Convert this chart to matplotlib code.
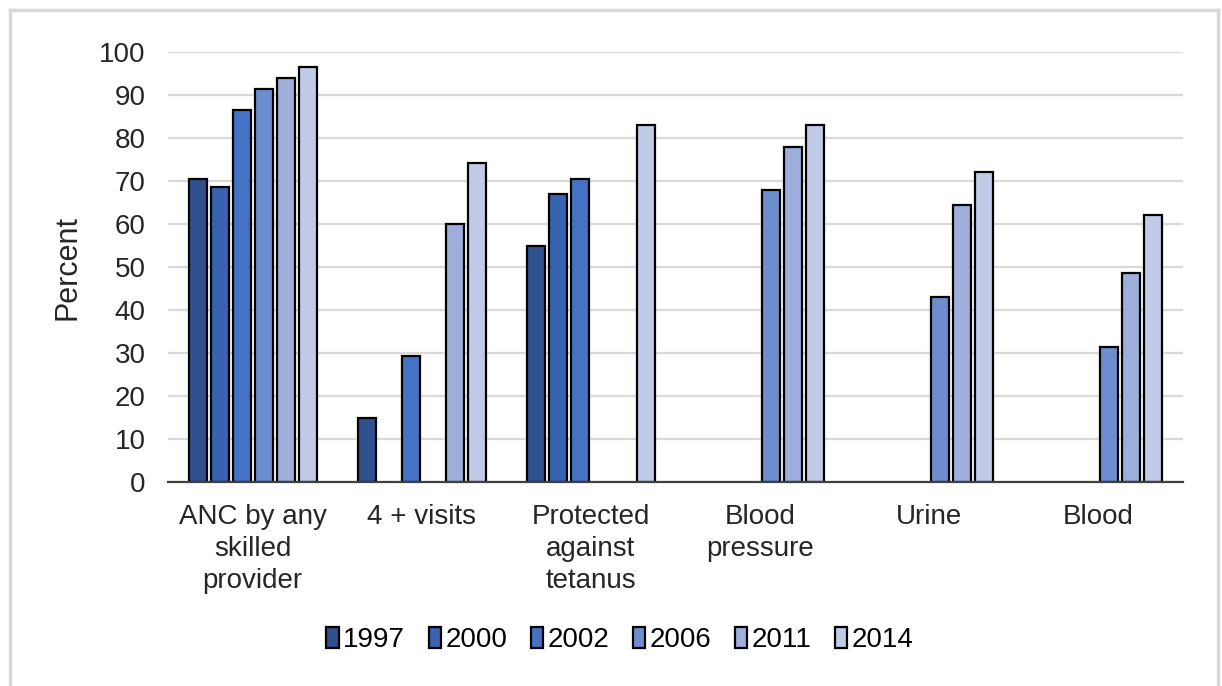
import matplotlib
matplotlib.use("Agg")
import matplotlib.pyplot as plt
from matplotlib.patches import Patch
from matplotlib.lines import Line2D
import numpy as np

categories = ["ANC by any\nskilled\nprovider", "4 + visits", "Protected\nagainst\ntetanus",
              "Blood\npressure", "Urine", "Blood"]
years = ["1997", "2000", "2002", "2006", "2011", "2014"]
nan = np.nan
values = {
    "1997": [70.5, 15.0, 55.0, nan, nan, nan],
    "2000": [68.5, nan, 67.0, nan, nan, nan],
    "2002": [86.5, 29.2, 70.5, nan, nan, nan],
    "2006": [91.5, nan, nan, 68.0, 43.0, 31.5],
    "2011": [94.0, 60.0, nan, 77.8, 64.5, 48.5],
    "2014": [96.5, 74.2, 83.0, 83.0, 72.0, 62.0],
}
colors = ["#2F528F", "#3763B0", "#4472C4", "#6E8DCE", "#9DAEDA", "#C1CBE8"]

plt.rcParams['font.family'] = ['Liberation Sans', 'DejaVu Sans']

fig = plt.figure(figsize=(12.22, 6.86), dpi=100)
ax = fig.add_axes([168/1222, 1-482/686, (1183-168)/1222, (482-52)/686])

x = np.arange(len(categories))
step = 0.13
width = 0.107
for i, y in enumerate(years):
    off = (i - 2.5) * step
    ax.bar(x + off, values[y], width=width, color=colors[i], edgecolor="black",
           linewidth=1.6, zorder=3)

ax.set_xlim(-0.5, len(categories) - 0.5)
ax.set_ylim(0, 100)
ax.set_yticks(range(0, 101, 10))
ax.yaxis.grid(True, color="#D9D9D9", linewidth=1.6, zorder=0)
ax.set_axisbelow(True)
for s in ["top", "right", "left"]:
    ax.spines[s].set_visible(False)
ax.spines["bottom"].set_color("#404040")
ax.spines["bottom"].set_linewidth(1.6)
ax.spines["bottom"].set_zorder(4)
ax.tick_params(axis="y", length=0, labelsize=20, pad=16, colors="#262626")
ax.tick_params(axis="x", length=0, labelsize=20, pad=16, colors="#262626")
ax.set_xticks(x)
ax.set_xticklabels(categories, linespacing=1.3)
ax.set_ylabel("Percent", fontsize=22, color="#262626", labelpad=12)

handles = [Patch(facecolor=colors[i], edgecolor="black", linewidth=1.6) for i in range(len(years))]
leg = fig.legend(handles, years, loc="center", bbox_to_anchor=(620/1222, 1-640/686), ncol=6,
                 frameon=False, fontsize=20, handlelength=0.45, handleheight=0.8,
                 handletextpad=0.15, columnspacing=0.85)

# outer border
border_color = "#D9D9D9"
for xs, ys in [((10/1222, 10/1222), (0, 1-10/686)),
               ((10/1222, 1218/1222), (1-10/686, 1-10/686)),
               ((1218/1222, 1218/1222), (0, 1-10/686))]:
    fig.add_artist(Line2D(xs, ys, color=border_color, linewidth=2.5, transform=fig.transFigure))

fig.savefig("out.png", dpi=100)
